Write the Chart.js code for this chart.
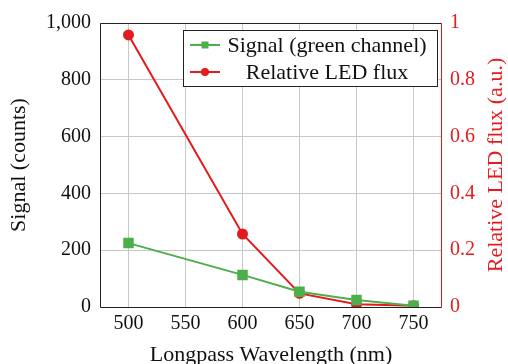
<!DOCTYPE html>
<html>
<head>
<meta charset="utf-8">
<script src="https://cdn.jsdelivr.net/npm/chart.js@4.4.0/dist/chart.umd.min.js"></script>
<style>
  html, body { margin: 0; padding: 0; background: #fff; }
  #wrap { width: 508px; height: 364px; }
</style>
</head>
<body>
<div id="wrap"><canvas id="chart" width="508" height="364"></canvas></div>
<script>
const wavelengths = [500, 600, 650, 700, 750];
const signalCounts = [225, 113, 54, 25, 4];
const ledFlux = [0.958, 0.257, 0.048, 0.01, 0.004];
const xTicks = [500, 550, 600, 650, 700, 750];

const GREEN = '#4daf4a';
const RED = '#e41a1c';
const FONT = '"Liberation Serif", "DejaVu Serif", serif';

// frame, right axis title and boxed legend, pgfplots style
const framePlugin = {
    id: 'frame',
    afterDraw(chart) {
        const { ctx, chartArea: a } = chart;
        ctx.save();
        ctx.lineWidth = 1;
        ctx.strokeStyle = '#222';
        ctx.beginPath();
        ctx.moveTo(a.right, a.top + 0.5);
        ctx.lineTo(a.left + 0.5, a.top + 0.5);
        ctx.lineTo(a.left + 0.5, a.bottom + 0.5);
        ctx.lineTo(a.right, a.bottom + 0.5);
        ctx.stroke();
        ctx.strokeStyle = RED;
        ctx.beginPath();
        ctx.moveTo(a.right - 0.5, a.top);
        ctx.lineTo(a.right - 0.5, a.bottom + 1);
        ctx.stroke();

        // right axis title, reading bottom to top
        ctx.save();
        ctx.translate(496, (a.top + a.bottom) / 2);
        ctx.rotate(-Math.PI / 2);
        ctx.fillStyle = RED;
        ctx.font = '22px ' + FONT;
        ctx.textAlign = 'center';
        ctx.textBaseline = 'middle';
        ctx.fillText('Relative LED flux (a.u.)', 0, 0);
        ctx.restore();

        // legend
        const bx = 183, by = 30, bw = 254, bh = 56;
        ctx.fillStyle = '#fff';
        ctx.fillRect(bx, by, bw, bh);
        ctx.strokeStyle = '#222';
        ctx.lineWidth = 1;
        ctx.strokeRect(bx + 0.5, by + 0.5, bw, bh);
        chart.data.datasets.forEach((ds, i) => {
            const y = by + 15 + i * 27;
            ctx.strokeStyle = ds.borderColor;
            ctx.lineWidth = 2;
            ctx.beginPath();
            ctx.moveTo(bx + 7, y);
            ctx.lineTo(bx + 37, y);
            ctx.stroke();
            ctx.fillStyle = ds.backgroundColor;
            if (ds.pointStyle === 'rect') {
                ctx.fillRect(bx + 22 - 3.5, y - 3.5, 7, 7);
            } else {
                ctx.beginPath();
                ctx.arc(bx + 22, y, 4, 0, Math.PI * 2);
                ctx.fill();
            }
            ctx.fillStyle = '#111';
            ctx.font = '22px ' + FONT;
            ctx.textBaseline = 'middle';
            ctx.textAlign = 'center';
            ctx.fillText(ds.label, bx + 144, y + 1);
        });
        ctx.restore();
    }
};

new Chart(document.getElementById('chart').getContext('2d'), {
    type: 'line',
    data: {
        datasets: [{
            label: 'Signal (green channel)',
            data: wavelengths.map((w, i) => ({ x: w, y: signalCounts[i] })),
            borderColor: GREEN,
            backgroundColor: GREEN,
            pointStyle: 'rect',
            pointRadius: 6,
            borderWidth: 2,
            yAxisID: 'y'
        }, {
            label: 'Relative LED flux',
            data: wavelengths.map((w, i) => ({ x: w, y: ledFlux[i] })),
            borderColor: RED,
            backgroundColor: RED,
            pointStyle: 'circle',
            pointRadius: 4.5,
            borderWidth: 2,
            yAxisID: 'y1'
        }]
    },
    options: {
        responsive: false,
        animation: false,
        layout: { padding: { top: 23, left: 0, right: 0, bottom: 0 } },
        plugins: { legend: { display: false }, tooltip: { enabled: false } },
        scales: {
            x: {
                type: 'linear',
                min: 475,
                max: 775,
                afterBuildTicks: axis => { axis.ticks = xTicks.map(v => ({ value: v })); },
                afterFit: axis => { axis.height = 57; },
                grid: { color: '#c8c8c8', drawTicks: false },
                border: { display: false },
                ticks: { color: '#111', font: { family: FONT, size: 20 }, padding: 5 },
                title: { display: true, text: 'Longpass Wavelength (nm)', color: '#111', font: { family: FONT, size: 22 }, padding: { top: 0, bottom: -4 } }
            },
            y: {
                position: 'left',
                min: 0,
                max: 1000,
                afterFit: axis => { axis.width = 100; },
                grid: { color: '#c8c8c8', drawTicks: false },
                border: { display: false },
                ticks: { stepSize: 200, color: '#111', font: { family: FONT, size: 20 }, padding: 9,
                    callback: v => v.toLocaleString('en-US') },
                title: { display: true, text: 'Signal (counts)', color: '#111', font: { family: FONT, size: 22 }, padding: { top: 6, bottom: 0 } }
            },
            y1: {
                position: 'right',
                min: 0,
                max: 1,
                afterFit: axis => { axis.width = 66; },
                grid: { drawOnChartArea: false, drawTicks: false },
                border: { display: false },
                ticks: { stepSize: 0.2, color: RED, font: { family: FONT, size: 20 }, padding: 8,
                    callback: v => (Math.round(v * 10) / 10).toString() }
            }
        }
    },
    plugins: [framePlugin]
});
</script>
</body>
</html>
